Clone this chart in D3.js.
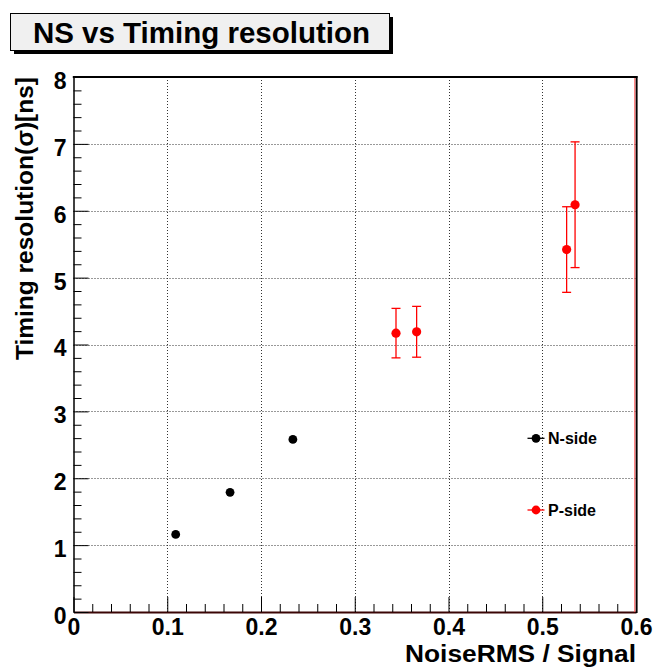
<!DOCTYPE html>
<html>
<head>
<meta charset="utf-8">
<script src="https://cdn.jsdelivr.net/npm/d3@7"></script>
<style>
  html, body { margin: 0; padding: 0; background: #fff; }
  svg { display: block; font-family: "Liberation Sans", Arial, Helvetica, sans-serif; }
</style>
</head>
<body>
<svg id="chart" width="654" height="668"></svg>
<script>
// N-side strips (no error bars)
const nSideX = [0.109, 0.167, 0.234];
const nSideY = [1.16, 1.79, 2.58];

// P-side strips with symmetric timing errors
const pSideX = [0.344, 0.366, 0.526, 0.535];
const pSideY = [4.17, 4.19, 5.42, 6.09];
const pSideErr = [0.37, 0.38, 0.64, 0.94];

// Axis ticks
const xMajorTicks = [0, 0.1, 0.2, 0.3, 0.4, 0.5, 0.6];
const xTickLabels = ["0", "0.1", "0.2", "0.3", "0.4", "0.5", "0.6"];
const yMajorTicks = [0, 1, 2, 3, 4, 5, 6, 7, 8];
const yTickLabels = ["0", "1", "2", "3", "4", "5", "6", "7", "8"];

const legendNames = ["N-side", "P-side"];

const svg = d3.select("#chart");
const frame = { left: 73.5, right: 636, top: 77, bottom: 612 };

const x = d3.scaleLinear().domain([0, 0.6]).range([frame.left, frame.right]);
const y = d3.scaleLinear().domain([0, 8]).range([frame.bottom, frame.top]);

const xMinor = d3.range(0, 0.6001, 0.02).filter(v => Math.abs(v * 10 - Math.round(v * 10)) > 1e-6);
const yMinor = d3.range(0, 8.001, 0.2).filter(v => Math.abs(v - Math.round(v)) > 1e-6);

// Dotted grid
const grid = svg.append("g").attr("stroke", "#333").attr("stroke-width", 1).attr("stroke-dasharray", "1,2");
grid.selectAll("line.gx").data(xMajorTicks.slice(1, -1)).join("line")
  .attr("x1", d => Math.round(x(d)) + 0.5).attr("x2", d => Math.round(x(d)) + 0.5)
  .attr("y1", frame.top).attr("y2", frame.bottom);
grid.selectAll("line.gy").data(yMajorTicks.slice(1, -1)).join("line")
  .attr("y1", d => Math.round(y(d)) + 0.5).attr("y2", d => Math.round(y(d)) + 0.5)
  .attr("x1", frame.left).attr("x2", frame.right);

// Axes: ticks point into the frame
const fmtX = d => xTickLabels[xMajorTicks.indexOf(d)];
const fmtY = d => yTickLabels[yMajorTicks.indexOf(d)];

const xAxis = svg.append("g").attr("transform", `translate(0,${frame.bottom})`)
  .call(d3.axisBottom(x).tickValues(xMajorTicks).tickFormat(fmtX).tickSizeInner(-15).tickSizeOuter(0).tickPadding(7));
svg.append("g").attr("transform", `translate(0,${frame.bottom})`)
  .call(d3.axisBottom(x).tickValues(xMinor).tickFormat("").tickSizeInner(-8).tickSizeOuter(0))
  .select(".domain").remove();

const yAxis = svg.append("g").attr("transform", `translate(${frame.left},0)`)
  .call(d3.axisLeft(y).tickValues(yMajorTicks).tickFormat(fmtY).tickSizeInner(-15).tickSizeOuter(0).tickPadding(7));
svg.append("g").attr("transform", `translate(${frame.left},0)`)
  .call(d3.axisLeft(y).tickValues(yMinor).tickFormat("").tickSizeInner(-8).tickSizeOuter(0))
  .select(".domain").remove();

svg.selectAll(".tick line").attr("stroke", "#000").attr("stroke-width", 1);
[xAxis, yAxis].forEach(a => a.selectAll("text")
  .attr("font-size", 23).attr("font-weight", "bold").attr("fill", "#000")
  .attr("font-family", "'Liberation Sans', Arial, sans-serif"));
yAxis.selectAll("text").attr("dy", "0.32em").attr("transform", "translate(0,4)");
xAxis.select(".domain").attr("stroke", "#3a0505").attr("stroke-width", 2);
yAxis.select(".domain").attr("stroke", "#000").attr("stroke-width", 1.5);

// Frame top and right edges
svg.append("line").attr("x1", frame.left - 0.7).attr("x2", frame.right + 1.5)
  .attr("y1", frame.top).attr("y2", frame.top).attr("stroke", "#000").attr("stroke-width", 2);
svg.append("line").attr("x1", frame.right + 0.6).attr("x2", frame.right + 0.6)
  .attr("y1", frame.top - 1).attr("y2", frame.bottom + 1).attr("stroke", "#000").attr("stroke-width", 2);
svg.append("line").attr("x1", frame.right - 1.2).attr("x2", frame.right - 1.2)
  .attr("y1", frame.top + 1).attr("y2", frame.bottom).attr("stroke", "#f55").attr("stroke-width", 1);

// P-side error bars
const red = "#ff0000";
const eb = svg.append("g").attr("stroke", red).attr("stroke-width", 1.3);
pSideX.forEach((px, i) => {
  const cx = x(px), top = y(pSideY[i] + pSideErr[i]), bot = y(pSideY[i] - pSideErr[i]);
  eb.append("line").attr("x1", cx).attr("x2", cx).attr("y1", top).attr("y2", bot);
  eb.append("line").attr("x1", cx - 4.5).attr("x2", cx + 4.5).attr("y1", top).attr("y2", top);
  eb.append("line").attr("x1", cx - 4.5).attr("x2", cx + 4.5).attr("y1", bot).attr("y2", bot);
});

svg.append("g").selectAll("circle").data(pSideX).join("circle")
  .attr("cx", d => x(d)).attr("cy", (d, i) => y(pSideY[i])).attr("r", 4.6).attr("fill", red);
svg.append("g").selectAll("circle").data(nSideX).join("circle")
  .attr("cx", d => x(d)).attr("cy", (d, i) => y(nSideY[i])).attr("r", 4.4).attr("fill", "#000");

// Legend
const legendItems = [
  { name: legendNames[0], color: "#000", cx: 536, cy: 438.3 },
  { name: legendNames[1], color: red, cx: 536, cy: 510 }
];
const lg = svg.append("g");
legendItems.forEach(it => {
  lg.append("line").attr("x1", it.cx - 8.5).attr("x2", it.cx + 8.5).attr("y1", it.cy).attr("y2", it.cy)
    .attr("stroke", it.color).attr("stroke-width", 1.3);
  lg.append("circle").attr("cx", it.cx).attr("cy", it.cy).attr("r", 4.4).attr("fill", it.color);
  lg.append("text").attr("x", it.cx + 12).attr("y", it.cy + 5.8)
    .attr("font-size", 16).attr("font-weight", "bold").attr("fill", "#000").text(it.name);
});

// Axis titles
svg.append("text").attr("x", frame.right).attr("y", 662)
  .attr("text-anchor", "end").attr("font-size", 23).attr("font-weight", "bold")
  .attr("textLength", 231).attr("lengthAdjust", "spacingAndGlyphs")
  .text("NoiseRMS / Signal");

svg.append("text").attr("transform", `translate(33,${frame.top}) rotate(-90)`)
  .attr("text-anchor", "end").attr("font-size", 24.5).attr("font-weight", "bold")
  .text("Timing resolution(σ)[ns]");

// Title box with drop shadow
const tb = { x: 10, y: 13, w: 379, h: 37 };
svg.append("rect").attr("x", tb.x + 4).attr("y", tb.y + 4).attr("width", tb.w).attr("height", tb.h).attr("fill", "#000");
svg.append("rect").attr("x", tb.x + 0.5).attr("y", tb.y + 0.5).attr("width", tb.w).attr("height", tb.h)
  .attr("fill", "#f0f0f0").attr("stroke", "#000").attr("stroke-width", 1);
svg.append("text").attr("x", tb.x + tb.w / 2 + 2).attr("y", 43)
  .attr("text-anchor", "middle").attr("font-size", 29.5).attr("font-weight", "bold")
  .text("NS vs Timing resolution");
</script>
</body>
</html>
